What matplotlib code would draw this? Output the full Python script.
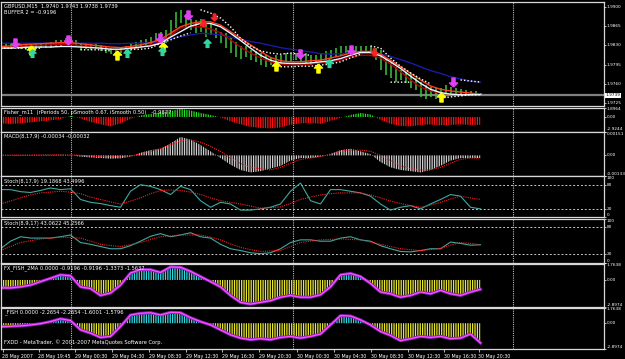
import numpy as np
import matplotlib
matplotlib.use("Agg")
import matplotlib.pyplot as plt
import matplotlib.transforms as mtrans
from matplotlib.path import Path

plt.rcParams['font.family'] = 'DejaVu Sans'
plt.rcParams['hatch.linewidth'] = 0.9

W, H = 625, 359
nan = float('nan')

# ---- main chart (GBPUSD M15), one sample per step ----
ma_blue = [1.9834,1.9834,1.9834,1.9834,1.9834,1.9834,1.9834,1.9834,1.9834,1.9834,
           1.9834,1.9833,1.9833,1.9834,1.9834,1.9835,1.9837,1.9842,1.9846,1.9849,
           1.9852,1.9851,1.9849,1.9845,1.9841,1.9837,1.9834,1.9830,1.9826,1.9823,
           1.9821,1.9818,1.9815,1.9814,1.9815,1.9816,1.9816,1.9817,1.9814,1.9810,
           1.9804,1.9798,1.9791,1.9784,1.9779,1.9773,1.9769,1.9765,1.9763]
ma_red = [1.9828,1.9829,1.9831,1.9832,1.9833,1.9834,1.9835,1.9835,1.9833,1.9831,
          1.9829,1.9827,1.9826,1.9828,1.9831,1.9835,1.9841,1.9852,1.9864,1.9870,
          1.9873,1.9873,1.9867,1.9855,1.9843,1.9831,1.9819,1.9808,1.9802,1.9800,
          1.9800,1.9802,1.9803,1.9807,1.9811,1.9816,1.9819,1.9819,1.9814,1.9803,
          1.9791,1.9779,1.9767,1.9756,1.9750,1.9747,1.9745,1.9743,1.9741]
ma_dark = [1.9825,1.9826,1.9828,1.9829,1.9830,1.9831,1.9832,1.9832,1.9829,1.9827,
           1.9825,1.9823,1.9822,1.9823,1.9827,1.9831,1.9836,1.9847,1.9862,1.9864,
           1.9864,1.9860,1.9853,1.9840,1.9827,1.9816,1.9807,1.9800,1.9796,1.9794,
           1.9794,1.9796,1.9798,1.9800,1.9803,1.9809,1.9812,1.9812,1.9807,1.9796,
           1.9782,1.9767,1.9754,1.9747,1.9743,1.9741,1.9740,1.9740,1.9739]
ma_white = [1.9825,1.9825,1.9826,1.9827,1.9827,1.9827,1.9828,1.9828,1.9827,1.9826,
            1.9825,1.9823,1.9823,1.9825,1.9827,1.9829,1.9834,1.9845,1.9855,1.9865,
            1.9870,1.9870,1.9864,1.9852,1.9839,1.9825,1.9812,1.9803,1.9798,1.9797,
            1.9797,1.9798,1.9800,1.9802,1.9806,1.9812,1.9817,1.9817,1.9811,1.9800,
            1.9788,1.9774,1.9761,1.9750,1.9744,1.9741,1.9740,1.9740,1.9740]
trail_up = [nan]*20 + [1.9895,1.9889,1.9880,1.9864,1.9843,1.9829,1.9820,1.9816,1.9814,1.9816,
                       1.9814,1.9812,nan,nan,nan,nan,nan,1.9829,1.9825,1.9807,
                       1.9792,1.9780,1.9769,1.9760,nan,nan,1.9767,1.9765,1.9763]
trail_dn = [1.9825,1.9825,1.9825,1.9825,1.9825,nan,nan,nan,1.9822,1.9822,
            1.9822,1.9820,nan,1.9823,1.9823,1.9825,1.9834,1.9840,1.9847,1.9853,
            nan,nan,nan,nan,nan,nan,nan,nan,1.9791,1.9791,
            1.9792,1.9792,1.9794,1.9796,1.9800,1.9807,1.9814,nan,nan,1.9763,
            1.9763,1.9763,nan,nan,1.9734,1.9736,1.9738,1.9740,1.9740]

# bars, two per step
bar_high = [1.9834,1.9835,1.9835,1.9834,1.9833,1.9834,1.9834,1.9835,1.9834,1.9835,
            1.9837,1.9839,1.9840,1.9843,1.9845,1.9840,1.9835,1.9834,1.9833,1.9834,
            1.9831,1.9828,1.9825,1.9823,1.9825,1.9828,1.9834,1.9837,1.9840,1.9841,
            1.9845,1.9852,1.9855,1.9858,1.9876,1.9891,1.9895,1.9888,1.9879,1.9876,
            1.9879,1.9870,1.9870,1.9861,1.9855,1.9852,1.9846,1.9837,1.9828,1.9828,
            1.9822,1.9819,1.9816,1.9812,1.9809,1.9812,1.9812,1.9816,1.9816,1.9817,
            1.9816,1.9816,1.9812,1.9812,1.9816,1.9819,1.9822,1.9825,1.9828,1.9829,
            1.9828,1.9828,1.9829,1.9829,1.9828,1.9825,1.9822,1.9806,1.9797,1.9791,
            1.9785,1.9782,1.9779,1.9770,1.9764,1.9758,1.9755,1.9752,1.9752,1.9758,
            1.9755,1.9752,1.9750,1.9749,1.9747,1.9746,1.9743]
bar_low = [1.9822,1.9823,1.9823,1.9825,1.9823,1.9822,1.9819,1.9823,1.9825,1.9825,
           1.9826,1.9828,1.9829,1.9831,1.9831,1.9828,1.9822,1.9823,1.9822,1.9823,
           1.9819,1.9817,1.9814,1.9812,1.9816,1.9817,1.9820,1.9823,1.9825,1.9828,
           1.9831,1.9837,1.9834,1.9834,1.9846,1.9861,1.9870,1.9861,1.9858,1.9852,
           1.9855,1.9846,1.9849,1.9843,1.9834,1.9825,1.9816,1.9809,1.9806,1.9809,
           1.9803,1.9800,1.9794,1.9791,1.9794,1.9791,1.9797,1.9800,1.9800,1.9803,
           1.9800,1.9797,1.9794,1.9797,1.9800,1.9803,1.9806,1.9809,1.9812,1.9816,
           1.9812,1.9816,1.9816,1.9817,1.9816,1.9803,1.9785,1.9776,1.9770,1.9764,
           1.9767,1.9761,1.9752,1.9749,1.9736,1.9733,1.9736,1.9733,1.9736,1.9740,
           1.9741,1.9740,1.9740,1.9738,1.9738,1.9738,1.9738]

# signal arrows (step, price)
arr_mag_x = [1.4, 6.7, 15.9, 18.7, 29.9, 35.0, 45.2]
arr_mag_y = [1.9835, 1.9840, 1.9843, 1.9885, 1.9814, 1.9822, 1.9763]
arr_red_x = [20.2, 21.3, 37.3]
arr_red_y = [1.9871, 1.9882, 1.9818]
arr_yel_x = [3.0, 11.6, 16.2, 27.5, 31.7, 44.0]
arr_yel_y = [1.9822, 1.9812, 1.9827, 1.9792, 1.9789, 1.9736]
arr_cyn_x = [3.1, 12.6, 16.1, 20.6, 32.8]
arr_cyn_y = [1.9816, 1.9816, 1.9820, 1.9834, 1.9798]

last_price = 1.9739
price_ticks = [1.9900, 1.9865, 1.9830, 1.9795, 1.9760, 1.9725]

# ---- indicators ----
fisher = [-1.3,-1.4,-1.3,-1.1,-0.9,-0.7,-0.4,0.2,-0.3,-1.0,
          -1.5,-1.9,-1.3,-0.4,0.3,0.6,0.9,1.2,1.6,1.3,
          0.8,0.4,-0.1,-0.9,-1.5,-2.0,-2.2,-2.3,-2.1,-1.6,
          -1.3,-1.2,-1.4,-0.8,-0.2,0.4,0.8,0.5,-0.6,-1.4,
          -1.8,-1.9,-1.6,-1.5,-1.7,-1.6,-1.5,-1.6,-1.6]
macd = [0.00002,0.00002,0.00003,0.00003,0.00003,0.00003,0.00004,0.00002,-0.00008,-0.00013,
        -0.00017,-0.00021,-0.00019,-0.00008,0.00017,0.00034,0.00043,0.00077,0.00119,0.00102,
        0.00068,0.00026,-0.00017,-0.0006,-0.00094,-0.0011,-0.00102,-0.00085,-0.00068,-0.00034,
        -0.00017,-0.00017,-0.00008,0.00008,0.00034,0.00043,0.00026,0.00008,-0.00043,-0.00077,
        -0.00094,-0.00102,-0.0011,-0.00094,-0.00068,-0.00034,-0.00017,-0.00017,-0.00017]
macd_sig = [0.00002,0.00002,0.00002,0.00002,0.00003,0.00003,0.00003,0.00003,0.0,-0.00004,
            -0.00007,-0.00009,-0.0001,-0.00004,0.00008,0.00026,0.00043,0.00068,0.00094,0.00102,
            0.00085,0.0006,0.00026,-0.00017,-0.00051,-0.00077,-0.00085,-0.00094,-0.00077,-0.00051,
            -0.00026,-0.00017,-0.00008,0.00008,0.00026,0.00034,0.00034,0.00026,0.0,-0.00034,
            -0.00068,-0.00085,-0.00094,-0.00094,-0.00077,-0.00051,-0.00026,-0.00017,-0.00017]
stoch1 = [68,68,63,61,66,72,68,70,44,37, 34,29,25,64,80,76,68,56,76,68,
          41,25,37,33,18,18,21,25,33,64, 84,41,33,68,68,64,60,52,33,18,
          25,29,21,33,44,56,52,25,21]
stoch1_sig = [33,40,48,55,60,62,64,62,58,50, 44,38,33,40,48,58,66,67,66,62,
              56,48,41,37,33,28,23,24,26,34, 44,50,55,58,60,60,60,55,48,40,
              34,29,25,30,37,45,52,48,44]
stoch2 = [32,49,59,56,56,56,59,63,46,42, 37,32,32,39,49,60,66,59,63,68,
          59,56,42,32,28,23,21,23,32,46, 52,52,49,49,56,59,52,49,39,32,
          26,25,28,32,32,47,44,40,41]
stoch2_sig = [28,37,46,50,54,56,58,57,56,49, 42,39,37,41,46,53,59,61,63,63,
              63,58,52,43,35,30,26,27,28,37, 46,49,52,53,54,53,52,47,42,37,
              32,30,28,30,33,40,46,44,41]
fx_fish = [-0.85,-0.85,-0.74,-0.55,-0.18,0.18,0.55,0.45,-0.74,-0.92,
           -1.66,-1.4,-0.55,0.74,1.11,1.11,0.8,1.4,1.35,0.92,
           0.37,-0.18,-0.74,-1.66,-2.4,-2.59,-2.4,-2.22,-1.85,-1.66,
           -1.85,-1.85,-1.59,-0.74,0.55,0.7,0.37,-0.37,-1.29,-1.48,
           -1.85,-1.66,-1.29,-1.48,-1.11,-1.48,-1.66,-1.29,-1.0]
fish = [-0.4,-0.35,-0.3,-0.2,-0.05,0.18,0.5,0.3,-0.74,-1.11,
        -1.6,-1.48,-0.37,0.92,1.11,1.18,0.92,1.22,1.18,0.62,
        0.18,-0.19,-0.74,-1.3,-1.67,-1.85,-1.74,-1.85,-1.6,-1.48,
        -1.67,-1.48,-1.22,-0.19,0.85,0.81,0.37,-0.19,-0.93,-1.37,
        -1.96,-1.74,-1.48,-1.6,-1.48,-1.74,-1.67,-1.22,-2.22]

separators = [7.0, 29.2, 51.2]
time_pos = [0.2, 3.8, 7.46, 11.14, 14.82, 18.5, 22.18, 25.86, 29.66, 33.34, 37.02, 40.7, 44.38, 47.8]
time_labels = ['28 May 2007', '28 May 19:45', '29 May 00:30', '29 May 04:30', '29 May 08:30',
               '29 May 12:30', '29 May 16:30', '29 May 20:30', '30 May 00:30', '30 May 04:30',
               '30 May 08:30', '30 May 12:30', '30 May 16:30', '30 May 20:30']

x = np.arange(len(ma_blue))
xb = np.arange(len(bar_high)) * 0.5

fig = plt.figure(figsize=(W / 100, H / 100), dpi=100, facecolor='black')


def panel(top, bot):
    ax = fig.add_axes([0.5 / W, 1 - bot / H, 603 / W, (bot - top) / H])
    ax.set_facecolor('black')
    for s in ax.spines.values():
        s.set_color('#d8d8d8')
        s.set_linewidth(0.9)
    ax.set_xlim(0, 60.3)
    ax.set_xticks([])
    ax.yaxis.tick_right()
    ax.tick_params(axis='y', colors='white', labelsize=3.1, length=1.5, width=0.5, pad=0.6)
    for sx in separators:
        ax.axvline(sx, color='#bbbbbb', ls=(0, (1, 1)), lw=0.8)
    return ax


def right_labels(ax, vals, labs, vas):
    ax.set_yticks(vals)
    ax.set_yticklabels(labs)
    for t, va in zip(ax.get_yticklabels(), vas):
        t.set_va(va)


def header(ax, txt, hpx, top_px=2.2):
    ax.text(0.006, 1 - top_px / hpx, txt, transform=ax.transAxes, va='top', ha='left',
            fontsize=3.7, color='white')


def hatch_fill(ax, y, pos_c, neg_c):
    y = np.asarray(y)
    ax.fill_between(x, 0, y, where=y >= 0, interpolate=True, facecolor='none',
                    edgecolor=pos_c, hatch='|' * 7, linewidth=0)
    ax.fill_between(x, 0, y, where=y <= 0, interpolate=True, facecolor='none',
                    edgecolor=neg_c, hatch='|' * 7, linewidth=0)


up = Path([(0, 1), (0.9, 0.1), (0.35, 0.1), (0.35, -1), (-0.35, -1), (-0.35, 0.1), (-0.9, 0.1), (0, 1)])
down = Path([(0, -1), (0.9, -0.1), (0.35, -0.1), (0.35, 1), (-0.35, 1), (-0.35, -0.1), (-0.9, -0.1), (0, -1)])

# main
ax = panel(2, 106)
ax.set_ylim(1.97195, 1.99091)
ax.axhline(last_price, color='#808080', lw=1.6)
ax.vlines(xb, bar_low, bar_high, color='#3cc43c', lw=1.1)
ax.plot(x, ma_blue, color='#1a1aa8', lw=1)
ax.plot(x, ma_dark, color='#b00000', lw=1)
ax.plot(x, ma_red, color='#ff4020', lw=1)
ax.plot(x, ma_white, color='#e8f4ff', lw=1)
ax.plot(x, trail_up, color='white', lw=1, ls=(0, (1, 1.5)))
ax.plot(x, trail_dn, color='white', lw=1, ls=(0, (1, 1.5)))
ax.scatter(arr_mag_x, arr_mag_y, marker=down, s=42, color='#e040f0', zorder=5)
ax.scatter(arr_red_x, arr_red_y, marker=down, s=26, color='#ff2020', zorder=5)
ax.scatter(arr_yel_x, arr_yel_y, marker=up, s=42, color='#ffff00', zorder=5)
ax.scatter(arr_cyn_x, arr_cyn_y, marker=up, s=32, color='#30d8a0', zorder=5)
right_labels(ax, price_ticks, ['%.4f' % v for v in price_ticks], ['center'] * 6)
tr = mtrans.blended_transform_factory(ax.transAxes, ax.transData)
ax.text(1.003, last_price, '%.4f' % last_price, transform=tr, fontsize=3.1, color='black',
        va='center', ha='left', bbox=dict(fc='white', ec='none', pad=0.4))
header(ax, 'GBPUSD,M15  1.9740 1.9743 1.9738 1.9739', 104, 2.0)
header(ax, 'BUFFER 2 = -0.9196', 104, 8.5)

# Fisher
ax = panel(107.5, 131.5)
ax.set_ylim(-2.9244, 1.8964)
hatch_fill(ax, fisher, '#20e020', '#ff1010')
right_labels(ax, [1.8964, 0, -2.9244], ['1.8964', '0.00', '-2.9244'], ['top', 'center', 'bottom'])
header(ax, 'Fisher_m11  (rPeriods 50, pSmooth 0.67, iSmooth 0.50)   -0.9877', 24)

# MACD
ax = panel(132, 176)
ax.set_ylim(-0.00133, 0.00151)
hatch_fill(ax, macd, '#d0d0d0', '#d0d0d0')
ax.plot(x, macd_sig, color='#ff2020', lw=0.8, ls=(0, (1, 1)))
right_labels(ax, [0.00151, 0, -0.00133], ['0.00151', '0.00', '-0.00133'], ['top', 'center', 'bottom'])
header(ax, 'MACD(8,17,9) -0.00034 -0.00032', 44)

# Stoch 1
ax = panel(176.5, 217.5)
ax.set_ylim(0, 100)
for lv in (80, 20):
    ax.axhline(lv, color='#c8c8c8', ls=(0, (2, 2)), lw=0.7)
ax.plot(x, stoch1, color='#40a8a0', lw=0.8)
ax.plot(x, stoch1_sig, color='#ff2020', lw=0.8, ls=(0, (1, 1)))
right_labels(ax, [100, 80, 20, 0], ['100', '80', '20', '0'], ['top', 'center', 'center', 'bottom'])
header(ax, 'Stoch(8,17,9) 19.1868 43.4996', 41)

# Stoch 2
ax = panel(218.5, 263)
ax.set_ylim(0, 100)
for lv in (80, 20):
    ax.axhline(lv, color='#c8c8c8', ls=(0, (2, 2)), lw=0.7)
ax.plot(x, stoch2, color='#40a8a0', lw=0.8)
ax.plot(x, stoch2_sig, color='#ff2020', lw=0.8, ls=(0, (1, 1)))
right_labels(ax, [100, 80, 20, 0], ['100', '80', '20', '0'], ['top', 'center', 'center', 'bottom'])
header(ax, 'Stoch(8,9,17) 43.0622 45.2566', 44.5)

# FX_FISH_2MA
ax = panel(263.5, 307)
ax.set_ylim(-2.8974, 1.7638)
hatch_fill(ax, fx_fish, '#30d8e0', '#e8e830')
ax.plot(x, fx_fish, color='#9020c0', lw=2.2)
ax.plot(x, fx_fish, color='#ff50ff', lw=0.9)
right_labels(ax, [1.7638, 0, -2.8974], ['1.7638', '0.00', '-2.8974'], ['top', 'center', 'bottom'])
header(ax, 'FX_FISH_2MA 0.0000 -0.9196 -0.9196 -1.3373 -1.5637', 43.5)

# _FISH
ax = panel(307.5, 349)
ax.set_ylim(-2.8974, 1.7638)
hatch_fill(ax, fish, '#30d8e0', '#e8e830')
ax.plot(x, fish, color='#9020c0', lw=2.2)
ax.plot(x, fish, color='#ff50ff', lw=0.9)
right_labels(ax, [1.7638, 0, -2.8974], ['1.7638', '0.00', '-2.8974'], ['top', 'center', 'bottom'])
header(ax, '_FISH 0.0000 -2.2654 -2.2654 -1.6001 -1.5796', 41.5)
ax.text(0.006, 0.1, 'FXDD - MetaTrader, \u00a9 2001-2007 MetaQuotes Software Corp.',
        transform=ax.transAxes, va='bottom', ha='left', fontsize=3.7, color='white')
ax.set_xticks(time_pos)
ax.set_xticklabels(time_labels, ha='left', fontsize=3.4, color='white')
ax.tick_params(axis='x', colors='white', length=2.5, width=0.5, pad=1)

fig.savefig('out.png', dpi=100, facecolor='black')
